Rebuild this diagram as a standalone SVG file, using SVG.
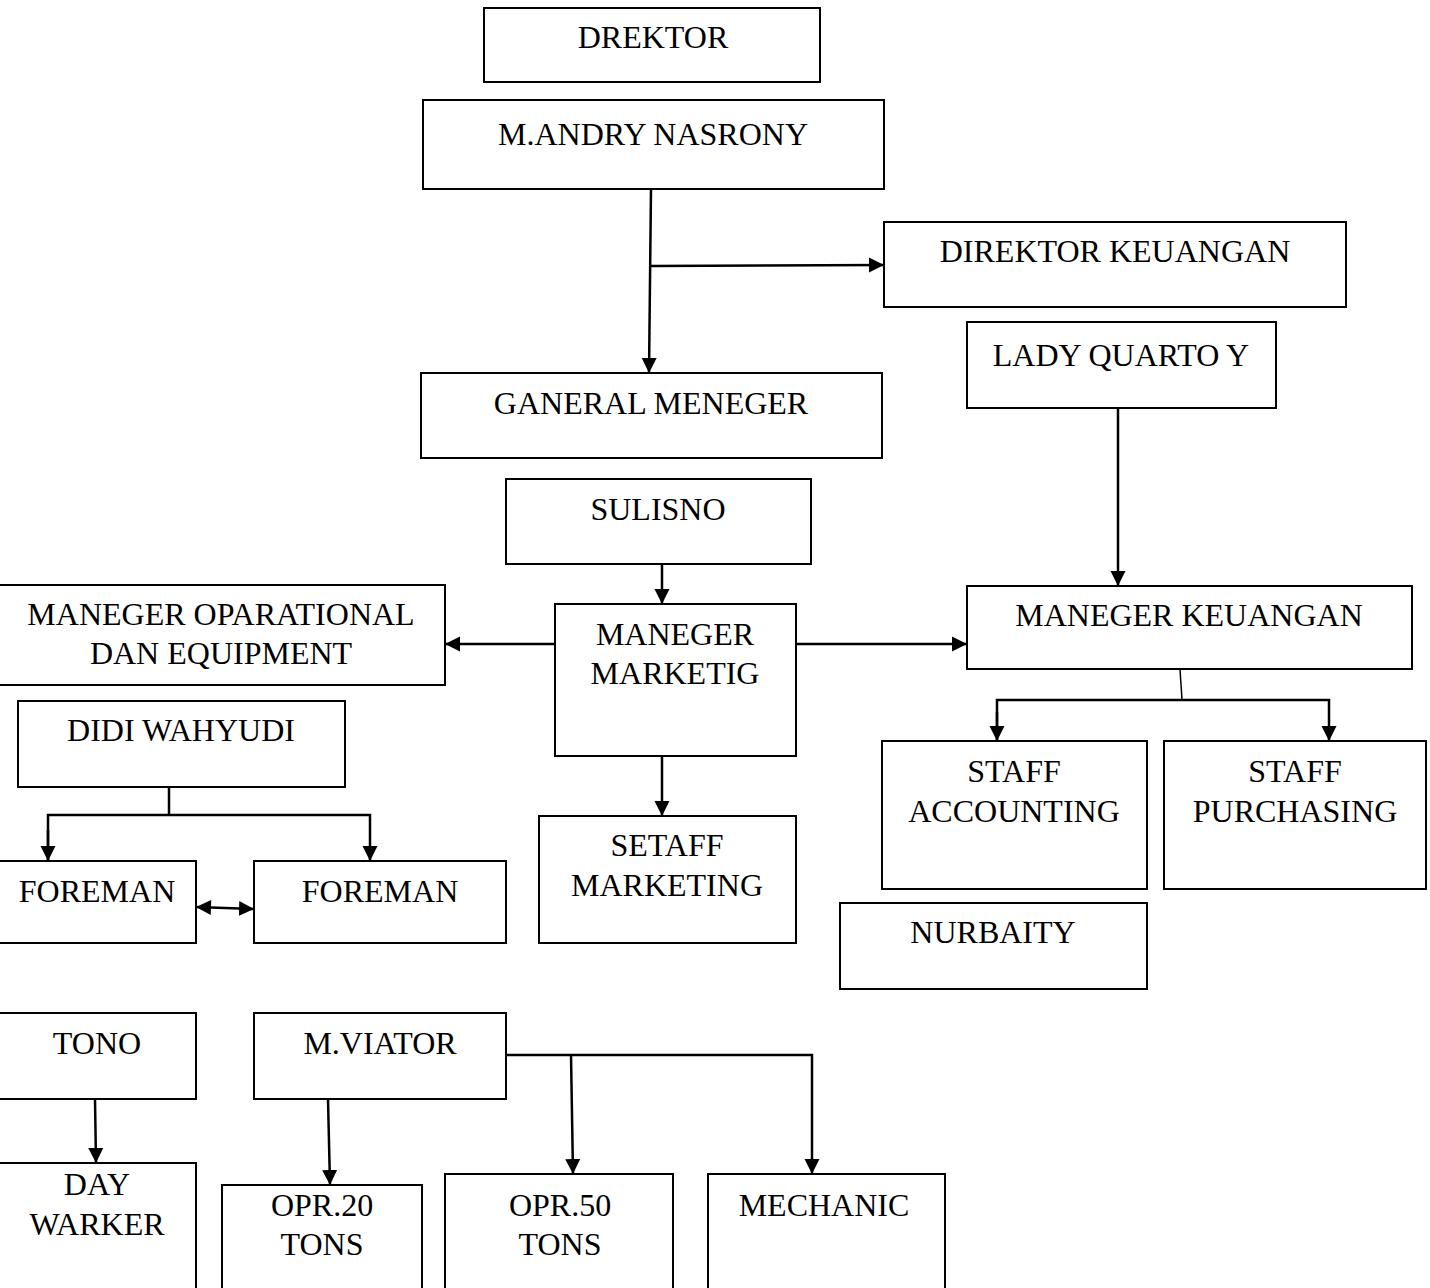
<svg xmlns="http://www.w3.org/2000/svg" width="1430" height="1288" viewBox="0 0 1430 1288">
<style>
.box{fill:#fff;stroke:#000;stroke-width:2}
text{font-family:"Liberation Serif","Times New Roman",serif;font-size:32px;fill:#000;text-anchor:middle}
.c{fill:none;stroke:#000;stroke-width:2.5}
</style>
<defs>
<marker id="ah" markerUnits="userSpaceOnUse" markerWidth="16" markerHeight="16" refX="15" refY="8" orient="auto">
<path d="M0,0.5 L15,8 L0,15.5 Z" fill="#000"/>
</marker>
<marker id="ahs" markerUnits="userSpaceOnUse" markerWidth="16" markerHeight="16" refX="0" refY="8" orient="auto">
<path d="M15,0.5 L0,8 L15,15.5 Z" fill="#000"/>
</marker>
</defs>
<rect width="1430" height="1288" fill="#fff"/>
<g id="connectors">
<path class="c" d="M651,189 L649,373" marker-end="url(#ah)"/>
<path class="c" d="M651,266 L884,265" marker-end="url(#ah)"/>
<path class="c" d="M1118,408 L1118,586" marker-end="url(#ah)"/>
<path class="c" d="M662,564 L662,604" marker-end="url(#ah)"/>
<path class="c" d="M555,644 L445,644" marker-end="url(#ah)"/>
<path class="c" d="M796,644 L967,644" marker-end="url(#ah)"/>
<path class="c" d="M662,756 L662,816" marker-end="url(#ah)"/>
<path class="c" d="M1180,669 L1182,700" style="stroke-width:1.5"/>
<path class="c" d="M997,741 L997,700 L1329,700 L1329,741" marker-end="url(#ah)"/>
<path class="c" d="M997,712 L997,741" marker-end="url(#ah)"/>
<path class="c" d="M169,787 L169,815"/>
<path class="c" d="M48,861 L48,815 L370,815 L370,861" marker-end="url(#ah)"/>
<path class="c" d="M48,830 L48,861" marker-end="url(#ah)"/>
<path class="c" d="M196,907 L254,909" marker-start="url(#ahs)" marker-end="url(#ah)"/>
<path class="c" d="M95,1099 L96,1163" marker-end="url(#ah)"/>
<path class="c" d="M328,1099 L330,1185" marker-end="url(#ah)"/>
<path class="c" d="M506,1055 L812,1055 L812,1174" marker-end="url(#ah)"/>
<path class="c" d="M571,1055 L573,1174" marker-end="url(#ah)"/>
</g>
<g id="drektor"><rect class="box" x="484" y="8" width="336" height="74"/><text x="653" y="48">DREKTOR</text></g>
<g id="andry"><rect class="box" x="423" y="100" width="461" height="89"/><text x="653" y="145">M.ANDRY NASRONY</text></g>
<g id="direktor-keuangan"><rect class="box" x="884" y="222" width="462" height="85"/><text x="1115" y="262">DIREKTOR KEUANGAN</text></g>
<g id="lady"><rect class="box" x="967" y="322" width="309" height="86"/><text x="1121" y="366">LADY QUARTO Y</text></g>
<g id="ganeral"><rect class="box" x="421" y="373" width="461" height="85"/><text x="651" y="414">GANERAL MENEGER</text></g>
<g id="sulisno"><rect class="box" x="506" y="479" width="305" height="85"/><text x="658" y="520">SULISNO</text></g>
<g id="marketig"><rect class="box" x="555" y="604" width="241" height="152"/><text x="675" y="645">MANEGER</text><text x="675" y="684">MARKETIG</text></g>
<g id="oparational"><rect class="box" x="-2" y="585" width="447" height="100"/><text x="221" y="625">MANEGER OPARATIONAL</text><text x="221" y="664">DAN EQUIPMENT</text></g>
<g id="manager-keuangan"><rect class="box" x="967" y="586" width="445" height="83"/><text x="1189" y="626">MANEGER KEUANGAN</text></g>
<g id="didi"><rect class="box" x="18" y="701" width="327" height="86"/><text x="181" y="741">DIDI WAHYUDI</text></g>
<g id="foreman1"><rect class="box" x="-2" y="861" width="198" height="82"/><text x="97" y="902">FOREMAN</text></g>
<g id="foreman2"><rect class="box" x="254" y="861" width="252" height="82"/><text x="380" y="902">FOREMAN</text></g>
<g id="setaff"><rect class="box" x="539" y="816" width="257" height="127"/><text x="667" y="856">SETAFF</text><text x="667" y="896">MARKETING</text></g>
<g id="accounting"><rect class="box" x="882" y="741" width="265" height="148"/><text x="1014" y="782">STAFF</text><text x="1014" y="822">ACCOUNTING</text></g>
<g id="purchasing"><rect class="box" x="1164" y="741" width="262" height="148"/><text x="1295" y="782">STAFF</text><text x="1295" y="822">PURCHASING</text></g>
<g id="nurbaity"><rect class="box" x="840" y="903" width="307" height="86"/><text x="993" y="943">NURBAITY</text></g>
<g id="tono"><rect class="box" x="-2" y="1013" width="198" height="86"/><text x="97" y="1054">TONO</text></g>
<g id="viator"><rect class="box" x="254" y="1013" width="252" height="86"/><text x="380" y="1054">M.VIATOR</text></g>
<g id="day"><rect class="box" x="-2" y="1163" width="198" height="135"/><text x="97" y="1195">DAY</text><text x="97" y="1235">WARKER</text></g>
<g id="opr20"><rect class="box" x="222" y="1185" width="200" height="113"/><text x="322" y="1216">OPR.20</text><text x="322" y="1255">TONS</text></g>
<g id="opr50"><rect class="box" x="445" y="1174" width="228" height="124"/><text x="560" y="1216">OPR.50</text><text x="560" y="1255">TONS</text></g>
<g id="mechanic"><rect class="box" x="708" y="1174" width="237" height="124"/><text x="824" y="1216">MECHANIC</text></g>
</svg>
